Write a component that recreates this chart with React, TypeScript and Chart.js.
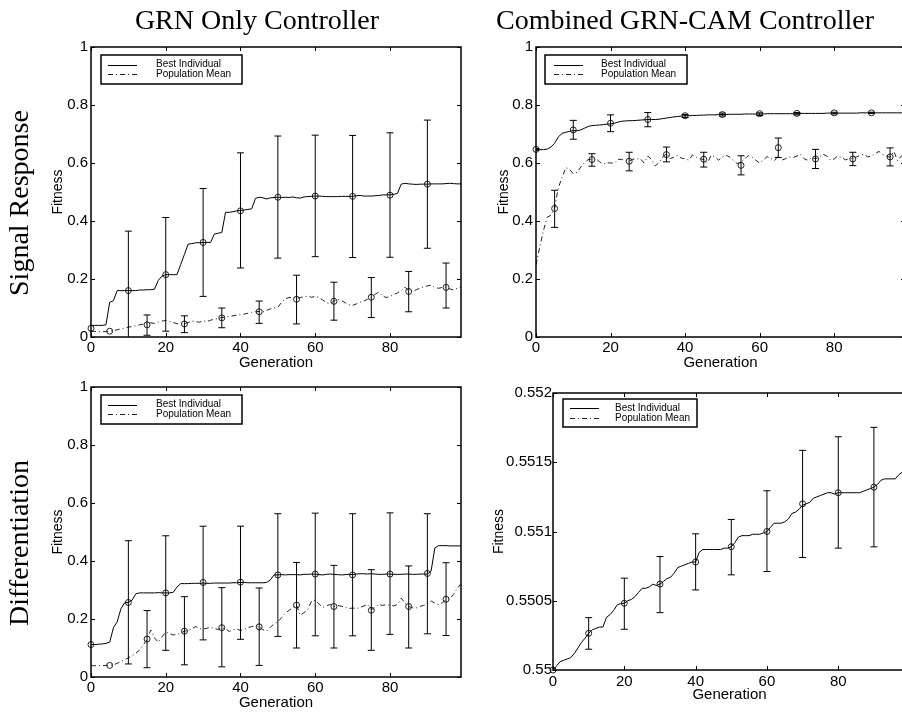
import React, { useEffect, useRef } from "react";
import { Chart, registerables } from "chart.js";

Chart.register(...registerables);

const SANS = "'Liberation Sans', Arial, Helvetica, sans-serif";
const SERIF = "'Liberation Serif', 'Times New Roman', serif";

const COLUMN_TITLES = ["GRN Only Controller", "Combined GRN-CAM Controller"];
const ROW_TITLES = ["Signal Response", "Differentiation"];
const LEGEND_LABELS = ["Best Individual", "Population Mean"];
const X_TITLE = "Generation";
const Y_TITLE = "Fitness";

const BEST_MARK_GENS = [0, 10, 20, 30, 40, 50, 60, 70, 80, 90];
const MEAN_MARK_GENS = [5, 15, 25, 35, 45, 55, 65, 75, 85, 95];

// ---------- Signal Response, GRN only ----------
const SR_GRN_BEST = [
  0.04, 0.04, 0.04, 0.04, 0.042, 0.12, 0.125, 0.16, 0.16, 0.16,
  0.16, 0.16, 0.16, 0.162, 0.162, 0.163, 0.163, 0.165, 0.195, 0.21,
  0.215, 0.215, 0.215, 0.215, 0.25, 0.285, 0.32, 0.322, 0.325, 0.325,
  0.326, 0.326, 0.326, 0.355, 0.358, 0.36, 0.43, 0.43, 0.432, 0.435,
  0.436, 0.438, 0.44, 0.442, 0.478, 0.482, 0.48, 0.476, 0.48, 0.481,
  0.482, 0.481, 0.482, 0.481, 0.483, 0.48, 0.479, 0.483, 0.484, 0.485,
  0.486, 0.486, 0.485, 0.484, 0.484, 0.484, 0.484, 0.485, 0.485, 0.485,
  0.485, 0.487, 0.488, 0.486, 0.486, 0.486, 0.487, 0.488, 0.49, 0.49,
  0.49, 0.492, 0.495, 0.527, 0.53, 0.528, 0.527, 0.526, 0.527, 0.527,
  0.527, 0.528, 0.528, 0.528, 0.528, 0.529, 0.53, 0.529, 0.528, 0.528,
];
const SR_GRN_MEAN = [
  0.02, 0.019, 0.018, 0.018, 0.019, 0.02, 0.022, 0.025, 0.028, 0.031,
  0.034, 0.036, 0.039, 0.042, 0.045, 0.046, 0.049, 0.047, 0.051, 0.055,
  0.057, 0.054, 0.05, 0.046, 0.044, 0.046, 0.05, 0.055, 0.053, 0.051,
  0.056, 0.053, 0.058, 0.061, 0.064, 0.067, 0.069, 0.071, 0.073, 0.075,
  0.077, 0.079, 0.082, 0.085, 0.087, 0.088, 0.086, 0.092, 0.097, 0.1,
  0.102, 0.12, 0.132, 0.136, 0.137, 0.133, 0.136, 0.139, 0.141, 0.137,
  0.14, 0.136, 0.128, 0.118, 0.115, 0.124, 0.13, 0.126, 0.118, 0.111,
  0.109, 0.114, 0.12, 0.124, 0.13, 0.138, 0.147, 0.155, 0.142, 0.136,
  0.14, 0.146, 0.152, 0.16, 0.172, 0.159, 0.157, 0.163, 0.168, 0.173,
  0.176, 0.179, 0.171, 0.168, 0.171, 0.172, 0.166, 0.162, 0.168, 0.172,
];
const SR_GRN_BEST_MARK = [0.03, 0.16, 0.215, 0.326, 0.435, 0.482, 0.486, 0.485, 0.489, 0.527];
const SR_GRN_BEST_HI = [null, 0.365, 0.412, 0.512, 0.635, 0.693, 0.696, 0.695, 0.704, 0.748];
const SR_GRN_BEST_LO = [null, -0.04, 0.02, 0.14, 0.238, 0.272, 0.277, 0.274, 0.275, 0.306];
const SR_GRN_MEAN_MARK = [0.02, 0.042, 0.045, 0.066, 0.087, 0.13, 0.123, 0.137, 0.157, 0.171];
const SR_GRN_MEAN_HI = [null, 0.076, 0.073, 0.1, 0.124, 0.213, 0.189, 0.205, 0.226, 0.255];
const SR_GRN_MEAN_LO = [null, 0.006, 0.015, 0.032, 0.047, 0.045, 0.058, 0.067, 0.087, 0.1];

// ---------- Signal Response, combined GRN-CAM ----------
const SR_CAM_BEST = [
  0.647, 0.646, 0.646, 0.648, 0.655, 0.668, 0.69, 0.702, 0.706, 0.709,
  0.712, 0.711, 0.714, 0.72, 0.726, 0.729, 0.73, 0.731, 0.732, 0.734,
  0.735, 0.737, 0.741, 0.744, 0.745, 0.746, 0.746, 0.747, 0.748, 0.749,
  0.75, 0.75, 0.75, 0.751, 0.753, 0.755, 0.757, 0.759, 0.76, 0.762,
  0.763, 0.763, 0.764, 0.764, 0.765, 0.765, 0.766, 0.766, 0.766, 0.767,
  0.767, 0.767, 0.768, 0.768, 0.768, 0.768, 0.769, 0.769, 0.769, 0.769,
  0.769, 0.769, 0.77, 0.77, 0.77, 0.77, 0.77, 0.77, 0.77, 0.77,
  0.77, 0.771, 0.771, 0.771, 0.771, 0.771, 0.771, 0.771, 0.772, 0.772,
  0.772, 0.772, 0.772, 0.772, 0.772, 0.772, 0.772, 0.773, 0.773, 0.773,
  0.773, 0.773, 0.773, 0.773, 0.773, 0.773, 0.773, 0.773, 0.773, 0.773,
];
const SR_CAM_MEAN = [
  0.249, 0.31, 0.367, 0.413, 0.42, 0.445, 0.515, 0.55, 0.584, 0.578,
  0.563, 0.567, 0.586, 0.601, 0.612, 0.613, 0.615, 0.605, 0.596, 0.601,
  0.6, 0.599, 0.613, 0.612, 0.609, 0.607, 0.613, 0.614, 0.615, 0.6,
  0.624, 0.612, 0.59, 0.601, 0.62, 0.634, 0.615, 0.62, 0.627, 0.617,
  0.614, 0.61, 0.628, 0.62, 0.614, 0.612, 0.6, 0.627, 0.621, 0.61,
  0.62, 0.627, 0.62, 0.608, 0.598, 0.603, 0.614, 0.626, 0.62, 0.609,
  0.6, 0.611, 0.622, 0.616, 0.608, 0.625, 0.61, 0.615, 0.621, 0.619,
  0.624, 0.63, 0.614, 0.609, 0.62, 0.614, 0.621, 0.63, 0.624, 0.61,
  0.614, 0.625, 0.619, 0.611, 0.615, 0.616, 0.621, 0.626, 0.63, 0.621,
  0.624, 0.632, 0.64, 0.629, 0.624, 0.62, 0.64, 0.608, 0.624, 0.63,
];
const SR_CAM_BEST_MARK = [0.647, 0.714, 0.737, 0.75, 0.763, 0.767, 0.77, 0.771, 0.773, 0.773];
const SR_CAM_BEST_HI = [0.65, 0.747, 0.766, 0.774, 0.767, 0.772, 0.773, 0.774, 0.775, 0.775];
const SR_CAM_BEST_LO = [0.644, 0.682, 0.708, 0.725, 0.757, 0.762, 0.764, 0.766, 0.769, 0.771];
const SR_CAM_MEAN_MARK = [0.443, 0.612, 0.606, 0.629, 0.613, 0.592, 0.653, 0.614, 0.614, 0.621];
const SR_CAM_MEAN_HI = [0.506, 0.632, 0.637, 0.655, 0.637, 0.625, 0.686, 0.647, 0.637, 0.652];
const SR_CAM_MEAN_LO = [0.378, 0.589, 0.573, 0.604, 0.586, 0.559, 0.619, 0.581, 0.591, 0.59];

// ---------- Differentiation, GRN only ----------
const DF_GRN_BEST = [
  0.112, 0.112, 0.113, 0.114, 0.116, 0.12, 0.17, 0.19, 0.235, 0.256,
  0.257, 0.265, 0.287, 0.29, 0.29, 0.29, 0.29, 0.29, 0.291, 0.29,
  0.29, 0.29, 0.292, 0.31, 0.322, 0.322, 0.322, 0.323, 0.323, 0.323,
  0.324, 0.323, 0.323, 0.324, 0.324, 0.324, 0.324, 0.324, 0.325, 0.325,
  0.326, 0.326, 0.325, 0.325, 0.325, 0.325, 0.325, 0.326, 0.335, 0.352,
  0.352, 0.353, 0.352, 0.353, 0.353, 0.353, 0.352, 0.354, 0.354, 0.355,
  0.355, 0.353, 0.352, 0.354, 0.355, 0.354, 0.353, 0.352, 0.353, 0.354,
  0.353, 0.355, 0.356, 0.356, 0.355, 0.356, 0.355, 0.354, 0.354, 0.355,
  0.355, 0.354, 0.354, 0.354, 0.355, 0.355, 0.354, 0.354, 0.355, 0.355,
  0.355, 0.365, 0.445, 0.453, 0.453, 0.453, 0.452, 0.452, 0.452, 0.452,
];
const DF_GRN_MEAN = [
  0.039, 0.039, 0.039, 0.039, 0.04, 0.04, 0.042, 0.047, 0.053, 0.06,
  0.066, 0.073, 0.082, 0.093, 0.11, 0.13, 0.162, 0.135, 0.12, 0.138,
  0.155, 0.15, 0.145, 0.147, 0.152, 0.158, 0.16, 0.166, 0.174, 0.167,
  0.165, 0.168, 0.172, 0.167, 0.164, 0.17, 0.166, 0.157, 0.163, 0.166,
  0.16, 0.165, 0.17, 0.174, 0.176, 0.173, 0.163, 0.158, 0.172, 0.183,
  0.19, 0.205, 0.22, 0.23, 0.24, 0.248, 0.213, 0.222, 0.232, 0.262,
  0.265, 0.252, 0.24, 0.245, 0.25, 0.243, 0.247, 0.244, 0.24, 0.236,
  0.238, 0.236, 0.24, 0.245, 0.25, 0.232, 0.24, 0.25, 0.247, 0.249,
  0.248, 0.245, 0.25, 0.272, 0.255, 0.243, 0.239, 0.238, 0.243, 0.247,
  0.25, 0.262, 0.255, 0.25, 0.256, 0.266, 0.27, 0.285, 0.305, 0.322,
];
const DF_GRN_BEST_MARK = [0.112, 0.257, 0.29, 0.326, 0.327, 0.352, 0.355, 0.352, 0.355, 0.357];
const DF_GRN_BEST_HI = [null, 0.47, 0.487, 0.52, 0.52, 0.563, 0.565, 0.563, 0.566, 0.563];
const DF_GRN_BEST_LO = [null, 0.045, 0.092, 0.128, 0.13, 0.14, 0.142, 0.142, 0.147, 0.149];
const DF_GRN_MEAN_MARK = [0.04, 0.131, 0.158, 0.17, 0.173, 0.248, 0.243, 0.23, 0.243, 0.268];
const DF_GRN_MEAN_HI = [null, 0.229, 0.277, 0.308, 0.307, 0.395, 0.385, 0.37, 0.383, 0.394];
const DF_GRN_MEAN_LO = [null, 0.032, 0.042, 0.035, 0.04, 0.1, 0.1, 0.092, 0.1, 0.143];

// ---------- Differentiation, combined GRN-CAM ----------
const DF_CAM_BEST = [
  0.55, 0.55003, 0.55006, 0.55007, 0.55008, 0.55009, 0.55012, 0.55016, 0.5502, 0.55023,
  0.550265, 0.55029, 0.5503, 0.55031, 0.55031, 0.55038, 0.5504, 0.55043, 0.55047, 0.55048,
  0.550482, 0.5505, 0.55051, 0.55053, 0.55056, 0.55059, 0.55059, 0.5506, 0.55062, 0.55061,
  0.55062, 0.55064, 0.55066, 0.55067, 0.5507, 0.55074, 0.55075, 0.55076, 0.55077, 0.55078,
  0.55078, 0.55085, 0.55087, 0.55087, 0.55087, 0.55087, 0.55087, 0.55087, 0.55088, 0.55088,
  0.55089, 0.55092, 0.55096, 0.55097, 0.55097, 0.55097, 0.55098, 0.55098, 0.55098, 0.55099,
  0.551, 0.55103, 0.55106, 0.55106, 0.55106, 0.55107, 0.55109, 0.55113, 0.55114, 0.55116,
  0.55119, 0.5512, 0.55121, 0.55124, 0.55125, 0.55126, 0.55127, 0.55128, 0.55128, 0.55127,
  0.55128, 0.55128, 0.55128, 0.55128, 0.55128, 0.55128, 0.55128, 0.55129, 0.5513, 0.55131,
  0.55132, 0.55134, 0.55137, 0.55138, 0.55138, 0.55138, 0.55138, 0.55141, 0.55143, 0.55143,
];
const DF_CAM_BEST_MARK = [0.55, 0.550265, 0.550482, 0.55062, 0.55078, 0.55089, 0.551, 0.5512, 0.55128, 0.55132];
const DF_CAM_BEST_HI = [null, 0.550378, 0.550663, 0.550819, 0.550983, 0.551087, 0.551294, 0.551586, 0.551684, 0.551752];
const DF_CAM_BEST_LO = [null, 0.55015, 0.550294, 0.550414, 0.550578, 0.550687, 0.550711, 0.550812, 0.55088, 0.550889];

// ---------- Axis ranges ----------
const X_RANGE = [0, 99, 20];
const Y_RANGE_UNIT = [0, 1, 0.2];
const Y_RANGE_DF_CAM = [0.55, 0.552, 0.0005];

type Legend = { dx: number; dy: number; w: number; h: number; l0: number; l1: number; tx: number };
type Panel = {
  left: number; top: number; w: number; h: number;
  padTop: number; padRight: number; yWidth: number; xHeight: number;
  xTickPad: number; xTitlePad: number; yTickPad: number; yTitlePad: number;
  yRange: number[];
  best: number[]; mean: number[] | null;
  bestMark: number[]; bestHi: (number | null)[]; bestLo: (number | null)[];
  meanMark: number[] | null; meanHi: (number | null)[] | null; meanLo: (number | null)[] | null;
  legend: Legend;
};

const PANELS: Panel[] = [
  {
    left: 0, top: 35, w: 475, h: 340, padTop: 10, padRight: 14, yWidth: 91, xHeight: 38,
    xTickPad: 2, xTitlePad: 3, yTickPad: 3, yTitlePad: 50,
    yRange: Y_RANGE_UNIT, best: SR_GRN_BEST, mean: SR_GRN_MEAN,
    bestMark: SR_GRN_BEST_MARK, bestHi: SR_GRN_BEST_HI, bestLo: SR_GRN_BEST_LO,
    meanMark: SR_GRN_MEAN_MARK, meanHi: SR_GRN_MEAN_HI, meanLo: SR_GRN_MEAN_LO,
    legend: { dx: 10, dy: 8, w: 141, h: 29, l0: 7, l1: 36, tx: 55 },
  },
  {
    left: 480, top: 35, w: 440, h: 340, padTop: 10, padRight: 15, yWidth: 56, xHeight: 38,
    xTickPad: 2, xTitlePad: 3, yTickPad: 3, yTitlePad: 16,
    yRange: Y_RANGE_UNIT, best: SR_CAM_BEST, mean: SR_CAM_MEAN,
    bestMark: SR_CAM_BEST_MARK, bestHi: SR_CAM_BEST_HI, bestLo: SR_CAM_BEST_LO,
    meanMark: SR_CAM_MEAN_MARK, meanHi: SR_CAM_MEAN_HI, meanLo: SR_CAM_MEAN_LO,
    legend: { dx: 9, dy: 8, w: 142, h: 29, l0: 9, l1: 38, tx: 56 },
  },
  {
    left: 0, top: 375, w: 475, h: 338, padTop: 10, padRight: 14, yWidth: 91, xHeight: 36,
    xTickPad: 2, xTitlePad: 1, yTickPad: 3, yTitlePad: 50,
    yRange: Y_RANGE_UNIT, best: DF_GRN_BEST, mean: DF_GRN_MEAN,
    bestMark: DF_GRN_BEST_MARK, bestHi: DF_GRN_BEST_HI, bestLo: DF_GRN_BEST_LO,
    meanMark: DF_GRN_MEAN_MARK, meanHi: DF_GRN_MEAN_HI, meanLo: DF_GRN_MEAN_LO,
    legend: { dx: 10, dy: 8, w: 141, h: 29, l0: 7, l1: 36, tx: 55 },
  },
  {
    left: 480, top: 375, w: 440, h: 338, padTop: 18, padRight: 14, yWidth: 73, xHeight: 43,
    xTickPad: 3, xTitlePad: 9, yTickPad: 1, yTitlePad: 11,
    yRange: Y_RANGE_DF_CAM, best: DF_CAM_BEST, mean: null,
    bestMark: DF_CAM_BEST_MARK, bestHi: DF_CAM_BEST_HI, bestLo: DF_CAM_BEST_LO,
    meanMark: null, meanHi: null, meanLo: null,
    legend: { dx: 10, dy: 6, w: 134, h: 28, l0: 7, l1: 36, tx: 52 },
  },
];

const TICK = 4;
const DASH_DOT = [5, 3, 1, 3];

function makeFramePlugin(legend: Legend) {
  return {
    id: "frameBox",
    afterDatasetsDraw(chart: any) {
      const { ctx, chartArea: ca } = chart;
      const xs = chart.scales.x;
      const ys = chart.scales.y;
      ctx.save();
      ctx.beginPath();
      ctx.rect(ca.left, ca.top, ca.right - ca.left, ca.bottom - ca.top);
      ctx.clip();
      ctx.strokeStyle = "#000";
      ctx.lineWidth = 1;
      chart.data.datasets.forEach((ds: any) => {
        if (!ds.errHi) return;
        ds.data.forEach((p: any, k: number) => {
          const hi = ds.errHi[k];
          const lo = ds.errLo[k];
          if (hi == null || lo == null) return;
          const x = xs.getPixelForValue(p.x);
          const yh = ys.getPixelForValue(hi);
          const yl = ys.getPixelForValue(lo);
          ctx.beginPath();
          ctx.moveTo(x, yh);
          ctx.lineTo(x, yl);
          ctx.moveTo(x - 3.5, yh);
          ctx.lineTo(x + 3.5, yh);
          ctx.moveTo(x - 3.5, yl);
          ctx.lineTo(x + 3.5, yl);
          ctx.stroke();
        });
      });
      ctx.restore();
    },
    afterDraw(chart: any) {
      const { ctx, chartArea: ca } = chart;
      const xs = chart.scales.x;
      const ys = chart.scales.y;
      ctx.save();
      ctx.strokeStyle = "#000";
      ctx.lineWidth = 1;
      ctx.beginPath();
      xs.ticks.forEach((t: any) => {
        const px = Math.round(xs.getPixelForValue(t.value)) + 0.5;
        ctx.moveTo(px, ca.bottom);
        ctx.lineTo(px, ca.bottom - TICK);
        ctx.moveTo(px, ca.top);
        ctx.lineTo(px, ca.top + TICK);
      });
      ys.ticks.forEach((t: any) => {
        const py = Math.round(ys.getPixelForValue(t.value)) + 0.5;
        ctx.moveTo(ca.left, py);
        ctx.lineTo(ca.left + TICK, py);
        ctx.moveTo(ca.right, py);
        ctx.lineTo(ca.right - TICK, py);
      });
      ctx.stroke();
      ctx.lineWidth = 1.5;
      ctx.strokeRect(ca.left, ca.top, ca.right - ca.left, ca.bottom - ca.top);

      // legend
      const bx = ca.left + legend.dx;
      const by = ca.top + legend.dy;
      ctx.fillStyle = "#fff";
      ctx.fillRect(bx, by, legend.w, legend.h);
      ctx.lineWidth = 1.5;
      ctx.strokeRect(bx, by, legend.w, legend.h);
      const r1 = by + legend.h * 0.33;
      const r2 = by + legend.h * 0.67;
      ctx.lineWidth = 1;
      ctx.beginPath();
      ctx.moveTo(bx + legend.l0, Math.round(r1) + 0.5);
      ctx.lineTo(bx + legend.l1, Math.round(r1) + 0.5);
      ctx.stroke();
      ctx.setLineDash(DASH_DOT);
      ctx.strokeStyle = "#222";
      ctx.beginPath();
      ctx.moveTo(bx + legend.l0, Math.round(r2) + 0.5);
      ctx.lineTo(bx + legend.l1, Math.round(r2) + 0.5);
      ctx.stroke();
      ctx.setLineDash([]);
      ctx.fillStyle = "#000";
      ctx.font = `10px ${SANS}`;
      ctx.textBaseline = "middle";
      ctx.textAlign = "left";
      ctx.fillText(LEGEND_LABELS[0], bx + legend.tx, r1);
      ctx.fillText(LEGEND_LABELS[1], bx + legend.tx, r2);
      ctx.restore();
    },
  };
}

function PlotPanel({ cfg }: { cfg: Panel }) {
  const ref = useRef<HTMLCanvasElement | null>(null);
  useEffect(() => {
    const canvas = ref.current;
    if (!canvas) return;
    const toPts = (vals: number[]) => vals.map((v, i) => ({ x: i, y: v }));
    const toMarks = (gens: number[], vals: number[]) => vals.map((v, k) => ({ x: gens[k], y: v }));
    const datasets: any[] = [
      {
        label: LEGEND_LABELS[0],
        data: toPts(cfg.best),
        borderColor: "#000",
        borderWidth: 1,
        pointRadius: 0,
        tension: 0,
        fill: false,
      },
    ];
    if (cfg.mean) {
      datasets.push({
        label: LEGEND_LABELS[1],
        data: toPts(cfg.mean),
        borderColor: "#222",
        borderWidth: 1,
        borderDash: DASH_DOT,
        pointRadius: 0,
        tension: 0,
        fill: false,
      });
    }
    datasets.push({
      label: "best-marks",
      data: toMarks(BEST_MARK_GENS, cfg.bestMark),
      showLine: false,
      pointRadius: 3,
      pointStyle: "circle",
      pointBorderColor: "#222",
      pointBackgroundColor: "rgba(0,0,0,0)",
      pointBorderWidth: 1,
      clip: 8,
      errHi: cfg.bestHi,
      errLo: cfg.bestLo,
    });
    if (cfg.meanMark) {
      datasets.push({
        label: "mean-marks",
        data: toMarks(MEAN_MARK_GENS, cfg.meanMark),
        showLine: false,
        pointRadius: 3,
        pointStyle: "circle",
        pointBorderColor: "#222",
        pointBackgroundColor: "rgba(0,0,0,0)",
        pointBorderWidth: 1,
        clip: 8,
        errHi: cfg.meanHi,
        errLo: cfg.meanLo,
      });
    }
    const tickFont = { family: SANS, size: 15 };
    const chart = new Chart(canvas, {
      type: "line",
      data: { datasets },
      options: {
        responsive: false,
        animation: false,
        devicePixelRatio: 1,
        layout: { padding: { left: 0, right: cfg.padRight, top: cfg.padTop, bottom: 0 } },
        plugins: { legend: { display: false }, tooltip: { enabled: false } },
        events: [],
        scales: {
          x: {
            type: "linear",
            min: X_RANGE[0],
            max: X_RANGE[1],
            ticks: {
              stepSize: X_RANGE[2],
              includeBounds: false,
              padding: cfg.xTickPad,
              color: "#000",
              font: tickFont,
              maxRotation: 0,
              autoSkip: false,
            },
            grid: { display: false, drawTicks: false },
            border: { display: false },
            title: {
              display: true,
              text: X_TITLE,
              color: "#000",
              font: { family: SANS, size: 15 },
              padding: { top: 0, bottom: cfg.xTitlePad },
            },
            afterFit: (s: any) => {
              s.height = cfg.xHeight;
            },
          },
          y: {
            type: "linear",
            min: cfg.yRange[0],
            max: cfg.yRange[1],
            ticks: {
              stepSize: cfg.yRange[2],
              padding: cfg.yTickPad,
              color: "#000",
              font: tickFont,
              callback: (v: any) => String(parseFloat(Number(v).toFixed(4))),
            },
            grid: { display: false, drawTicks: false },
            border: { display: false },
            title: {
              display: true,
              text: Y_TITLE,
              color: "#000",
              font: { family: SANS, size: 14 },
              padding: { top: cfg.yTitlePad, bottom: 0 },
            },
            afterFit: (s: any) => {
              s.width = cfg.yWidth;
            },
          },
        },
      } as any,
      plugins: [makeFramePlugin(cfg.legend)],
    });
    return () => chart.destroy();
  }, [cfg]);
  return (
    <canvas
      ref={ref}
      width={cfg.w}
      height={cfg.h}
      style={{ position: "absolute", left: cfg.left, top: cfg.top, width: cfg.w, height: cfg.h }}
    />
  );
}

const titleStyle: React.CSSProperties = {
  position: "absolute",
  width: 460,
  height: 32,
  lineHeight: "32px",
  fontFamily: SERIF,
  fontSize: 28,
  color: "#000",
  textAlign: "center",
  whiteSpace: "nowrap",
};

export default function App() {
  return (
    <div
      style={{
        position: "absolute",
        left: 0,
        top: 0,
        width: 902,
        height: 713,
        overflow: "hidden",
        background: "#fff",
      }}
    >
      {PANELS.map((p, i) => (
        <PlotPanel key={i} cfg={p} />
      ))}
      <div style={{ ...titleStyle, left: 257 - 230, top: 4 }}>{COLUMN_TITLES[0]}</div>
      <div style={{ ...titleStyle, left: 685 - 230, top: 4 }}>{COLUMN_TITLES[1]}</div>
      <div style={{ ...titleStyle, left: 19 - 230, top: 203 - 16, transform: "rotate(-90deg)" }}>
        {ROW_TITLES[0]}
      </div>
      <div style={{ ...titleStyle, left: 19 - 230, top: 543 - 16, transform: "rotate(-90deg)" }}>
        {ROW_TITLES[1]}
      </div>
    </div>
  );
}
